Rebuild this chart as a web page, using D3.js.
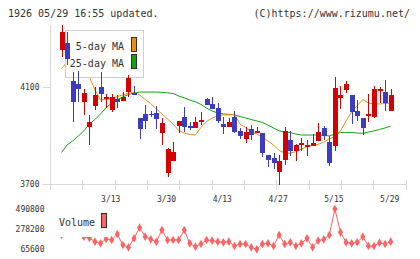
<!DOCTYPE html>
<html>
<head>
<meta charset="utf-8">
<script src="https://d3js.org/d3.v7.min.js"></script>
<style>
  html, body { margin: 0; padding: 0; background: #fff; }
  text { font-family: "DejaVu Sans Mono", monospace; fill: #333; }
</style>
</head>
<body>
<div id="chart"></div>
<script>
// trading days 2020/03/02 .. 2020/05/29
const dates = ["3/2","3/3","3/4","3/5","3/6","3/9","3/10","3/11","3/12","3/13",
  "3/16","3/17","3/18","3/19","3/23","3/24","3/25","3/26","3/27","3/30",
  "3/31","4/1","4/2","4/3","4/6","4/7","4/8","4/9","4/10","4/13",
  "4/14","4/15","4/16","4/17","4/20","4/21","4/22","4/23","4/24","4/27",
  "4/28","4/30","5/1","5/7","5/8","5/11","5/12","5/13","5/14","5/15",
  "5/18","5/19","5/20","5/21","5/22","5/25","5/26","5/27","5/28","5/29"];
const dateTicks = ["3/13","3/30","4/13","4/27","5/15","5/29"];

const open  = [4253,4283,4126,4112,4039,3934,4023,4099,4055,4005,
  4050,4044,4081,4074,3972,3989,3990,3992,3912,3747,
  3796,3940,3978,3940,3930,3956,4052,4030,4012,3949,
  3936,3978,3920,3884,3927,3909,3912,3820,3806,3751,
  3797,3881,3837,3861,3851,3857,3879,3930,3874,3858,
  4056,4088,4067,4001,3973,3982,3978,4088,4078,4002];
const high  = [4356,4328,4162,4166,4090,3985,4101,4163,4071,4071,
  4067,4081,4149,4104,3972,4026,4000,4022,3971,3847,
  3874,3960,4019,3954,3978,3998,4056,4058,4033,3975,
  3971,4001,3930,3936,3943,3936,3912,3820,3827,3820,
  3936,3919,3864,3888,3881,3906,3953,3939,3898,4142,
  4104,4125,4067,4046,3973,4071,4104,4101,4129,4092];
const low   = [4225,4191,3957,4039,3985,3861,4005,4039,4013,3998,
  4012,4044,4060,4067,3886,3926,3975,3927,3861,3728,
  3796,3909,3916,3923,3930,3943,4026,4009,3950,3906,
  3936,3909,3886,3868,3881,3909,3813,3771,3762,3697,
  3778,3817,3795,3837,3815,3857,3879,3881,3774,3836,
  4009,4074,3947,3961,3902,3957,3973,4033,4002,4002];
const close = [4328,4214,4039,4092,4076,3957,4067,4070,4058,4058,
  4039,4060,4136,4067,3925,3961,3988,3967,3950,3843,
  3833,3960,3936,3932,3956,3964,4026,4009,3961,3936,
  3957,3916,3899,3916,3902,3919,3829,3799,3788,3796,
  3919,3837,3861,3870,3861,3868,3916,3899,3788,4097,
  4067,4112,3998,3982,3932,3989,4092,4090,4033,4067];
const volume = [216500,300000,260000,280000,198500,185000,145800,128900,174300,163700,
  227000,111000,86700,181700,293500,198500,171100,145800,269200,163700,
  163700,163700,269200,128900,93000,121500,163700,156300,145800,139500,
  145800,100400,121500,121500,86700,65600,121500,128900,100400,216500,
  121500,139500,100400,128900,181700,86700,156300,171100,216500,490800,
  245000,139500,128900,139500,198500,100400,100400,135200,121500,145800];
const ma5 = [4176,4203,4211,4203,4178,4141,4088,4046,4048,4053,
  4061,4067,4075,4078,4067,4048,4032,4009,3989,3968,
  3947,3921,3910,3904,3902,3933,3958,3972,3982,3985,
  3985,3987,3947,3933,3916,3906,3894,3877,3861,3838,
  3828,3827,3834,3844,3854,3859,3863,3873,3886,3896,
  3919,3960,3997,4024,4048,4034,4030,4030,4032,4033];
const ma25 = [3830,3861,3877,3898,3919,3947,3966,3989,4015,4034,
  4048,4059,4069,4075,4079,4079,4079,4079,4078,4076,
  4073,4063,4055,4046,4039,4028,4013,4001,3993,3989,
  3987,3985,3978,3972,3966,3960,3954,3943,3931,3919,
  3914,3912,3906,3902,3902,3902,3902,3901,3898,3906,
  3912,3912,3913,3910,3909,3914,3919,3925,3931,3939];
const priceTicks = [4100, 3700];
const volTicks = [490800, 278200, 65600];

const W = 420, H = 259;
const svg = d3.select("#chart").append("svg")
  .attr("width", W).attr("height", H)
  .style("display", "block");

const x = d3.scaleLinear().domain([0, dates.length - 1]).range([61.5, 390.7]);
const y = d3.scaleLinear().domain([3700, 4100]).range([184, 87]);
const yv = d3.scaleLinear().domain([65600, 490800]).range([249.3, 209]);
const grid = d3.scaleLinear().domain([0, 11]).range([50, 405.5]);

const gridColor = "#d9d9d9";
const up = "#d50000", down = "#3c3cc0";
const orange = "#f08c14", green = "#14a014", volColor = "#ff6262";

// header
svg.append("text").attr("x", 8).attr("y", 16.5)
  .attr("font-size", "10px").text("1926 05/29 16:55 updated.");
svg.append("text").attr("x", 410).attr("y", 16.5).attr("text-anchor", "end")
  .attr("font-size", "10px").text("(C)https://www.rizumu.net/");

// axes / grid
const g = svg.append("g").attr("shape-rendering", "crispEdges");
g.append("line").attr("x1", 50.5).attr("x2", 50.5).attr("y1", 25).attr("y2", 190)
  .attr("stroke", gridColor);
g.append("line").attr("x1", 44).attr("x2", 406).attr("y1", 184.5).attr("y2", 184.5)
  .attr("stroke", gridColor);
g.selectAll(".vt").data(d3.range(1, 12)).enter().append("line")
  .attr("x1", d => Math.round(grid(d)) + 0.5).attr("x2", d => Math.round(grid(d)) + 0.5)
  .attr("y1", 180).attr("y2", 190).attr("stroke", gridColor);
g.selectAll(".yt").data(priceTicks).enter().append("line")
  .attr("x1", 43).attr("x2", 50).attr("y1", d => Math.round(y(d)) + 0.5)
  .attr("y2", d => Math.round(y(d)) + 0.5).attr("stroke", gridColor);

svg.selectAll(".yl").data(priceTicks).enter().append("text")
  .attr("x", 39.5).attr("y", d => y(d) + 3).attr("text-anchor", "end")
  .attr("font-size", "8px").text(d => d);

svg.selectAll(".xl").data(dateTicks).enter().append("text")
  .attr("x", d => x(dates.indexOf(d)) - 1).attr("y", 201.5).attr("text-anchor", "middle")
  .attr("font-size", "8px").text(d => d);

svg.selectAll(".vl").data(volTicks).enter().append("text")
  .attr("x", 44.5).attr("y", d => yv(d) + 3).attr("text-anchor", "end")
  .attr("font-size", "8px").text(d => d);

// moving averages
const maLine = arr => d3.line().x((d, i) => x(i)).y(d => y(d))(arr);
svg.append("path").attr("d", maLine(ma25)).attr("fill", "none")
  .attr("stroke", green).attr("stroke-width", 1);
svg.append("path").attr("d", maLine(ma5)).attr("fill", "none")
  .attr("stroke", orange).attr("stroke-width", 1);

// legend box (drawn over the MA lines, under the candles)
svg.append("rect").attr("x", 65.5).attr("y", 30.5).attr("width", 78).attr("height", 47)
  .attr("fill", "#fff").attr("stroke", "#d0d0d0");

// candles
const candles = svg.append("g").attr("shape-rendering", "crispEdges")
  .selectAll("g").data(dates).enter().append("g");
candles.append("line")
  .attr("x1", (d, i) => Math.round(x(i)) + 0.5).attr("x2", (d, i) => Math.round(x(i)) + 0.5)
  .attr("y1", (d, i) => y(high[i])).attr("y2", (d, i) => y(low[i]))
  .attr("stroke", (d, i) => close[i] >= open[i] ? up : down);
candles.append("rect")
  .attr("x", (d, i) => Math.round(x(i)) - 2)
  .attr("width", 5)
  .attr("y", (d, i) => y(Math.max(open[i], close[i])))
  .attr("height", (d, i) => Math.max(1.5, Math.abs(y(open[i]) - y(close[i]))))
  .attr("fill", (d, i) => close[i] >= open[i] ? up : down);

// legend contents
const legend = [["5-day MA", orange], ["25-day MA", green]];
legend.forEach((l, k) => {
  svg.append("text").attr("x", 124).attr("y", 49.5 + k * 17).attr("text-anchor", "end")
    .attr("font-size", "10px").text(l[0]);
  svg.append("rect").attr("x", 131.5).attr("y", 37.5 + k * 17).attr("width", 5).attr("height", 14)
    .attr("fill", l[1]).attr("stroke", "#333");
});

// volume
svg.append("path")
  .attr("d", d3.line().x((d, i) => x(i)).y(d => yv(d))(volume))
  .attr("fill", "none").attr("stroke", volColor).attr("stroke-width", 1);
svg.selectAll(".vm").data(volume).enter().append("path")
  .attr("transform", (d, i) => `translate(${x(i)},${yv(d)})`)
  .attr("d", d3.symbol(d3.symbolDiamond, 22))
  .attr("fill", volColor);

svg.append("rect").attr("x", 54).attr("y", 210).attr("width", 56).attr("height", 27)
  .attr("fill", "#fff");
svg.append("text").attr("x", 59).attr("y", 226).attr("font-size", "10px").text("Volume");
svg.append("rect").attr("x", 101.5).attr("y", 213.5).attr("width", 5).attr("height", 14)
  .attr("fill", volColor).attr("stroke", "#333");
</script>
</body>
</html>
